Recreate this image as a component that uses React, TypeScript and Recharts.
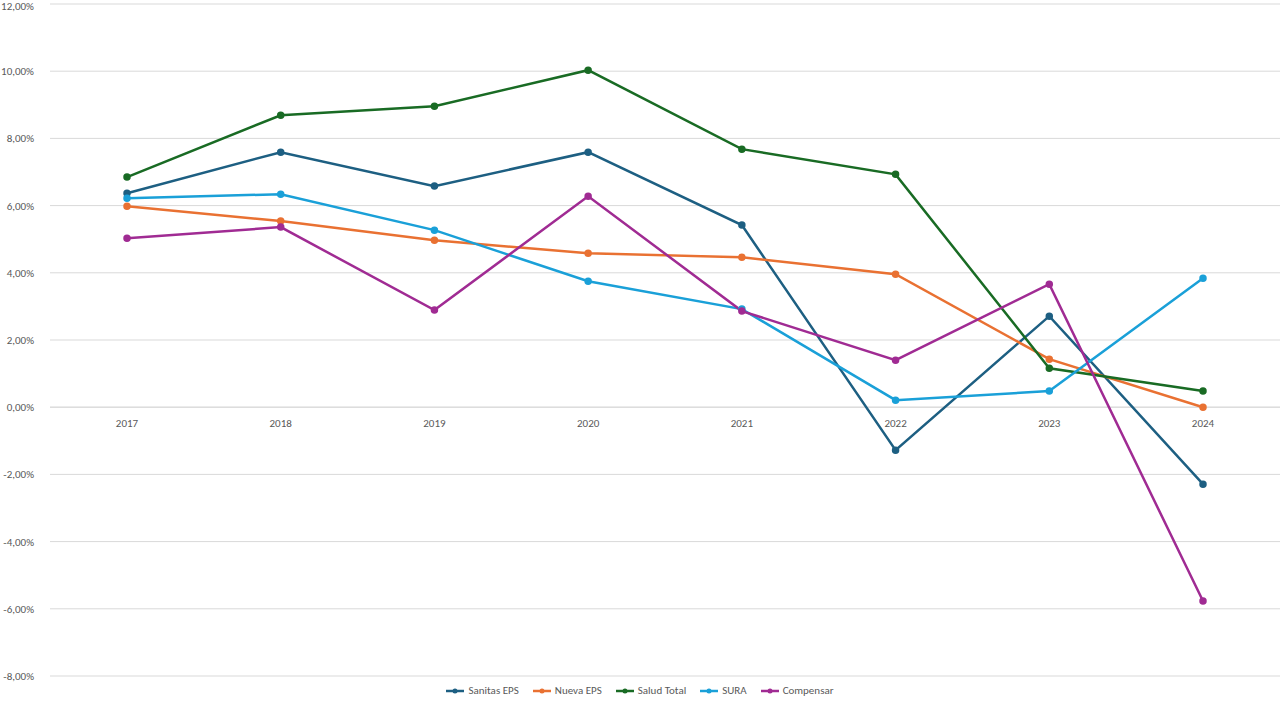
import { LineChart, Line, XAxis, YAxis, CartesianGrid, Legend, ReferenceLine } from 'recharts';

const years = ['2017', '2018', '2019', '2020', '2021', '2022', '2023', '2024'];
const sanitas = [6.37, 7.59, 6.58, 7.59, 5.42, -1.28, 2.71, -2.29];
const nuevaEps = [5.98, 5.54, 4.97, 4.58, 4.46, 3.96, 1.43, 0];
const saludTotal = [6.85, 8.69, 8.96, 10.03, 7.68, 6.93, 1.16, 0.48];
const sura = [6.22, 6.34, 5.27, 3.75, 2.92, 0.21, 0.48, 3.84];
const compensar = [5.03, 5.36, 2.89, 6.28, 2.86, 1.4, 3.66, -5.77];
const yTicks = [-8, -6, -4, -2, 0, 2, 4, 6, 8, 10, 12];

const data = years.map((year, i) => ({
  year,
  sanitas: sanitas[i],
  nuevaEps: nuevaEps[i],
  saludTotal: saludTotal[i],
  sura: sura[i],
  compensar: compensar[i],
}));

const series = [
  { key: 'sanitas', name: 'Sanitas EPS', color: '#1d5f82' },
  { key: 'nuevaEps', name: 'Nueva EPS', color: '#e97132' },
  { key: 'saludTotal', name: 'Salud Total', color: '#196b24' },
  { key: 'sura', name: 'SURA', color: '#1aa0d8' },
  { key: 'compensar', name: 'Compensar', color: '#a02b93' },
];

const fmt = (v: number) => v.toFixed(2).replace('.', ',') + '%';

// x labels sit under the zero line, not at the bottom
const YearTick = (props: any) => (
  <text x={props.x} y={props.y - 257} textAnchor="middle" fontSize={11} fill="#595959">
    {props.payload.value}
  </text>
);

const LegendContent = () => (
  <div style={{ display: 'flex', justifyContent: 'center', gap: 14, fontSize: 11, color: '#595959' }}>
    {series.map((s) => (
      <span key={s.key} style={{ display: 'flex', alignItems: 'center', gap: 4 }}>
        <svg width={18} height={8}>
          <line x1={0} y1={4} x2={18} y2={4} stroke={s.color} strokeWidth={2.5} />
          <circle cx={9} cy={4} r={2.5} fill={s.color} />
        </svg>
        {s.name}
      </span>
    ))}
  </div>
);

export default function App() {
  return (
    <div style={{ position: 'absolute', left: 0, top: 0, background: '#fff', fontFamily: 'Calibri, Carlito, "Liberation Sans", Arial, sans-serif' }}>
      <LineChart width={1280} height={709} data={data} margin={{ top: 4, right: 0, left: 0, bottom: -12 }}>
        <CartesianGrid vertical={false} stroke="#d9d9d9" />
        <XAxis dataKey="year" height={20} axisLine={false} tickLine={false} tick={<YearTick />} padding={{ left: 77, right: 77 }} interval={0} />
        <YAxis
          width={50}
          domain={[-8, 12]}
          ticks={yTicks}
          tickFormatter={fmt}
          axisLine={false}
          tickLine={false}
          tick={{ fontSize: 11, fill: '#595959' }}
          tickMargin={10}
        />
        <ReferenceLine y={0} stroke="#d9d9d9" />
        {series.map((s) => (
          <Line
            key={s.key}
            type="linear"
            dataKey={s.key}
            name={s.name}
            stroke={s.color}
            strokeWidth={2.5}
            dot={{ r: 2.5, fill: s.color, stroke: s.color }}
            isAnimationActive={false}
          />
        ))}
        <Legend content={<LegendContent />} wrapperStyle={{ height: 25, bottom: 0 }} />
      </LineChart>
    </div>
  );
}
